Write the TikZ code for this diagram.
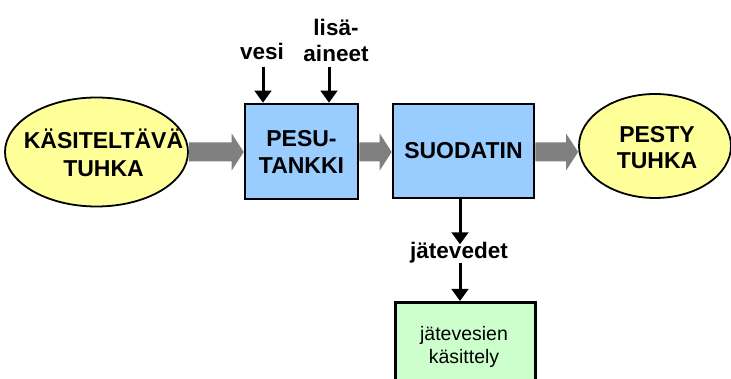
\documentclass[tikz,border=0pt]{standalone}
\usepackage{fontspec}
\setmainfont{Liberation Sans}
\usetikzlibrary{arrows.meta,shapes.geometric,calc}
\definecolor{ashyellow}{HTML}{FFFF99}
\definecolor{procblue}{HTML}{99CCFF}
\definecolor{wastegreen}{HTML}{CCFFCC}
\definecolor{flowgray}{HTML}{808080}
\tikzset{
  ashell/.style={draw=black, line width=1.8pt, fill=ashyellow, ellipse, inner sep=0pt},
  bigtxt/.style={inner sep=0pt, align=center, font=\fontsize{23}{28.5}\selectfont\bfseries},
  procbox/.style={draw=black, line width=2.6pt, fill=procblue, rectangle, inner sep=0pt, align=center, font=\fontsize{23}{27}\selectfont\bfseries},
  lbl/.style={inner sep=0pt, align=center, font=\fontsize{22.5}{26}\selectfont\bfseries},
  blkarrow/.style={draw=black, line width=3pt, -{Triangle[length=12pt, width=16.5pt]}},
}
\newcommand{\grayflowarrow}[2]{%
  \fill[flowgray] ($(#1)+(0,-9.5)$) -- ($(#2)+(-12,-9.5)$) -- ($(#2)+(-12,-18.5)$) -- (#2)
     -- ($(#2)+(-12,18.5)$) -- ($(#2)+(-12,9.5)$) -- ($(#1)+(0,9.5)$) -- cycle;}
\begin{document}
\begin{tikzpicture}[x=1pt, y=-1pt]
\clip (0,0) rectangle (731,379);
\fill[white] (0,0) rectangle (731,379);
\node[ashell, minimum width=183pt, minimum height=109pt] (raw) at (96.5,152) {};
\node[bigtxt] (rawtxt) at (103.5,153) {KÄSITELTÄVÄ\\TUHKA};
\node[procbox, minimum width=113pt, minimum height=95pt] (tank) at (301.5,151.5) {PESU-\\TANKKI};
\node[procbox, minimum width=141pt, minimum height=94pt] (filt) at (463.5,151) {SUODATIN};
\node[ashell, minimum width=152pt, minimum height=104pt] (washed) at (655,146) {};
\node[bigtxt, font=\fontsize{23}{25.5}\selectfont\bfseries] (washedtxt) at (657,147.5) {PESTY\\TUHKA};
\node[draw=black, line width=2.6pt, fill=wastegreen, rectangle, inner sep=0pt, minimum width=140pt, minimum height=100pt, anchor=north west] (treat) at (394,301) {};
\node[font=\fontsize{19.5}{22.5}\selectfont, align=center, inner sep=0pt] (treattxt) at (464,347) {jätevesien\\käsittely};
\node[lbl] (vesi) at (262,51) {vesi};
\node[lbl] (lisa) at (336,40) {lisä-\\aineet};
\node[lbl] (waste) at (459,253) {jätevedet};
\coordinate (vtop) at (263,67);
\coordinate (atop) at (329,67);
\coordinate (wtop) at (460,198);
\coordinate (midline) at (0,152);
\path (raw.east |- midline) coordinate (g1s) (tank.west |- midline) coordinate (g1e)
      (tank.east |- midline) coordinate (g2s) (filt.west |- midline) coordinate (g2e)
      (filt.east |- midline) coordinate (g3s) (washed.west |- midline) coordinate (g3e);
\grayflowarrow{g1s}{g1e}
\grayflowarrow{g2s}{g2e}
\grayflowarrow{g3s}{g3e}
\draw[blkarrow] (vtop) -- (vtop |- tank.north);
\draw[blkarrow] (atop) -- (atop |- tank.north);
\draw[blkarrow] (filt.south -| wtop) -- ([yshift=-2pt]waste.north -| wtop);
\draw[blkarrow] ([yshift=1pt]waste.south -| wtop) -- (treat.north -| wtop);
\end{tikzpicture}
\end{document}
